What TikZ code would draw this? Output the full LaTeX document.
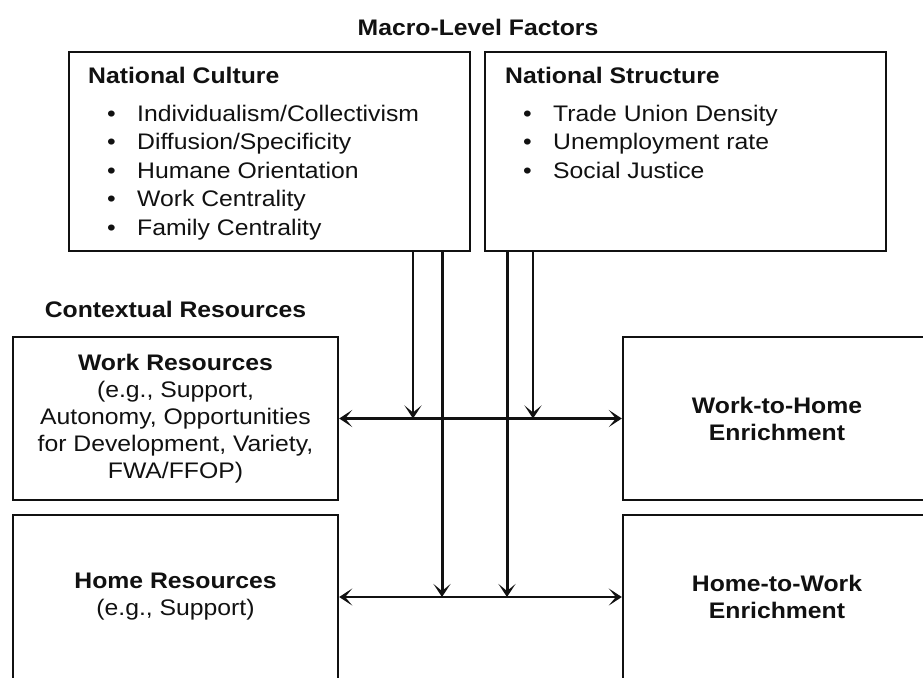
\documentclass[tikz,border=0pt]{standalone}
\usepackage{fontspec}
\setmainfont{Liberation Sans}[FakeStretch=1.1]
\usepackage{tikz}
\usepackage{xcolor}
\usetikzlibrary{arrows.meta,positioning,calc}
\definecolor{ink}{HTML}{111111}
\tikzset{
  txt/.style={font=\fontsize{22.5pt}{27pt}\selectfont, inner sep=0pt, text=ink},
  head/.style={font=\fontsize{22.5pt}{27pt}\selectfont\bfseries, inner sep=0pt, text=ink},
  frame/.style={draw=ink, line width=2.4pt, inner sep=0pt, align=center,
                font=\fontsize{22.5pt}{27pt}\selectfont, text=ink},
  mtip/.tip={Stealth[length=13pt,width=17pt,inset=7pt]},
  link/.style={mtip-mtip, line width=2.6pt, draw=ink},
  modthin/.style={-mtip, line width=1.6pt, draw=ink},
  modthick/.style={-mtip, line width=3pt, draw=ink}
}
\begin{document}
\begin{tikzpicture}[x=1pt,y=-1pt]
  \useasboundingbox (0,0) rectangle (923,677);
  \fill[white] (0,0) rectangle (923,677);
  \clip (0,0) rectangle (923,677);
  % macro level
  \node[head] (macro) at (478,27) {Macro-Level Factors};
  \node[frame, minimum width=401pt, minimum height=199pt] (culture) at (269.5,151.5) {};
  \node[frame, minimum width=401pt, minimum height=199pt] (structure) at (685.5,151.5) {};
  \node[head, anchor=base west] (culturehead) at (88,84) {National Culture};
  \node[head, anchor=base west] (structurehead) at (505,84) {National Structure};
  \foreach \entry [count=\i] in {Individualism/Collectivism, Diffusion/Specificity,
      Humane Orientation, Work Centrality, Family Centrality} {
    \node[txt, anchor=base west] (cult\i) at (107,{121+28.5*(\i-1)}) {\makebox[30pt][l]{\textbullet}\entry};
  }
  \foreach \entry [count=\i] in {Trade Union Density, Unemployment rate, Social Justice} {
    \node[txt, anchor=base west] (struct\i) at (523,{121+28.5*(\i-1)}) {\makebox[30pt][l]{\textbullet}\entry};
  }
  % contextual resources and outcomes
  \node[head] (context) at (175.5,309) {Contextual Resources};
  \node[frame, minimum width=325pt, minimum height=163pt] (workres) at (175.5,418.5)
    {\textbf{Work Resources}\\(e.g., Support,\\Autonomy, Opportunities\\for Development, Variety,\\FWA/FFOP)};
  \node[frame, minimum width=325pt, minimum height=164pt] (homeres) at (175.5,597)
    {\textbf{Home Resources}\\(e.g., Support)};
  \node[frame, minimum width=308pt, minimum height=163pt] (wtohome) at (777,418.5)
    {\textbf{Work-to-Home}\\\textbf{Enrichment}};
  \node[frame, minimum width=308pt, minimum height=164pt] (htowork) at (777,597)
    {\textbf{Home-to-Work}\\\textbf{Enrichment}};
  \draw[link] (workres) -- (wtohome);
  \draw[link] (homeres) -- (htowork);
  % moderating paths
  \coordinate (xa) at (413,0);
  \coordinate (xb) at (442,0);
  \coordinate (xc) at (507,0);
  \coordinate (xd) at (533,0);
  \draw[modthin] (culture.south -| xa) -- (xa |- workres.east);
  \draw[modthick] (culture.south -| xb) -- (xb |- homeres.east);
  \draw[modthick] (structure.south -| xc) -- (xc |- homeres.east);
  \draw[modthin] (structure.south -| xd) -- (xd |- workres.east);
\end{tikzpicture}
\end{document}
